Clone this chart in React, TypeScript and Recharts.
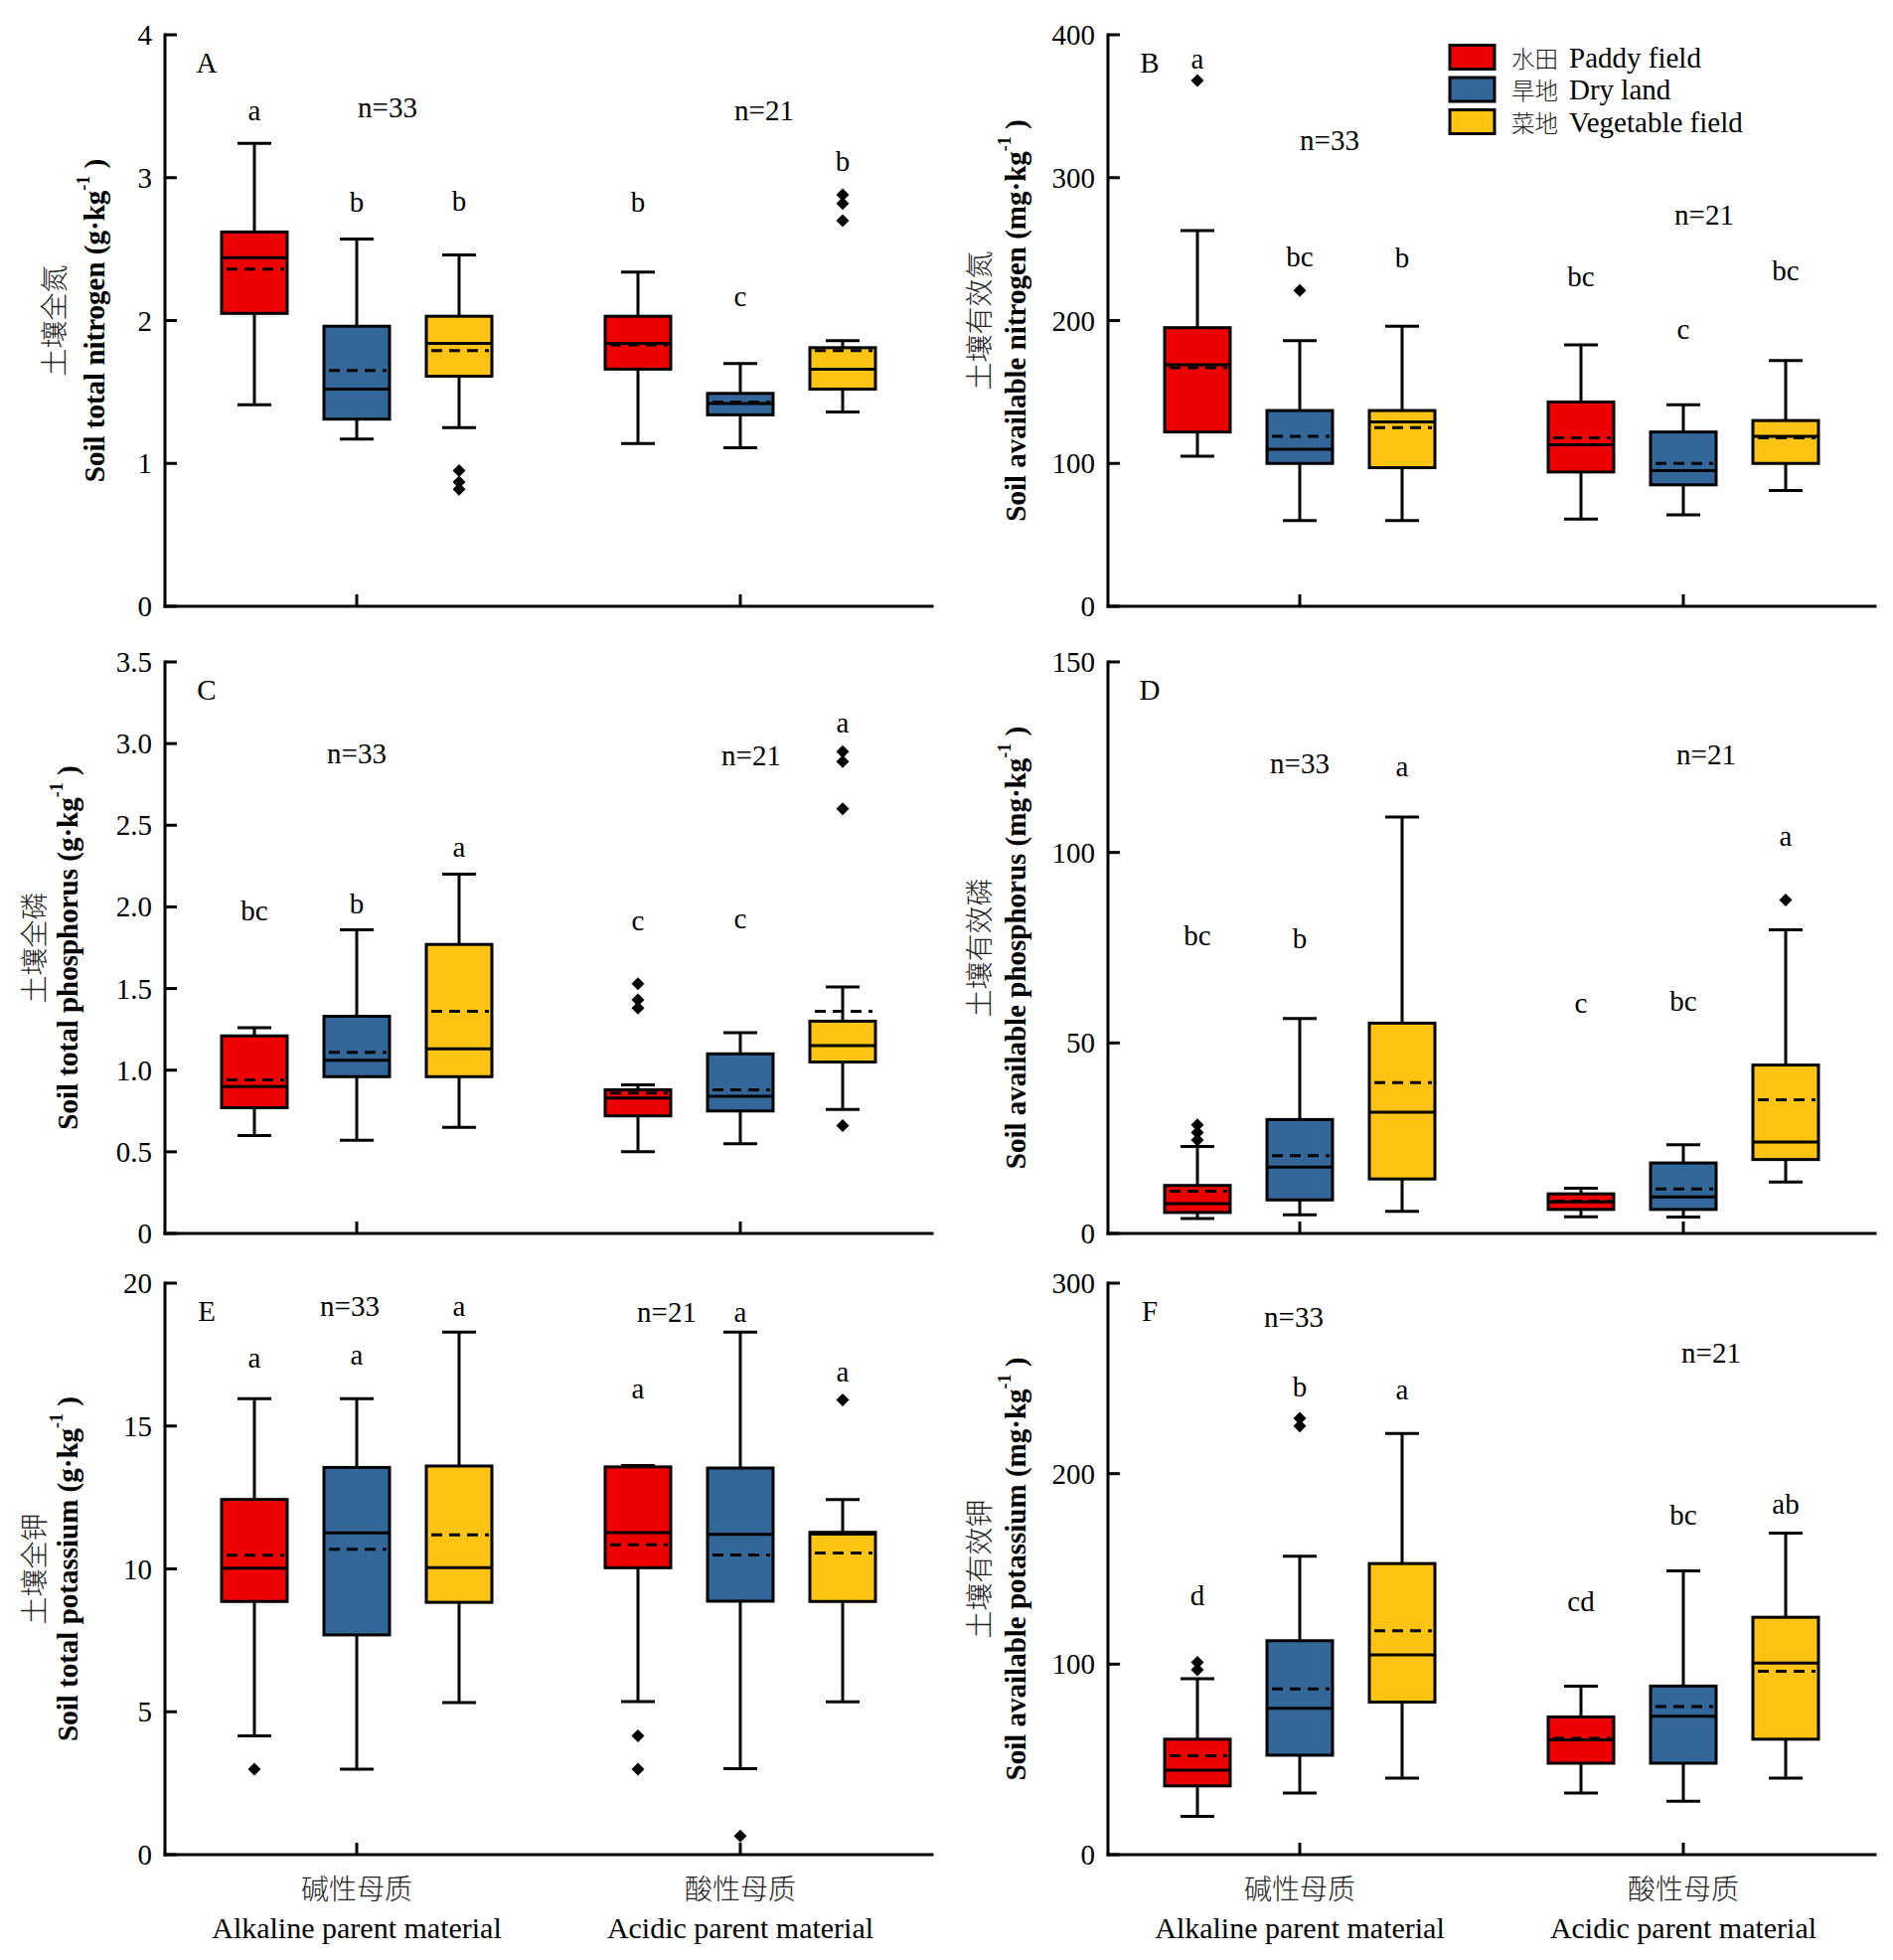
import { Bar, ComposedChart, Label, XAxis, YAxis } from "recharts";

// categories / series
const CATS = ["alkaline", "acidic"];
const CAT_ZH = ["碱性母质", "酸性母质"];
const CAT_EN = ["Alkaline parent material", "Acidic parent material"];
const N_TEXT = ["n=33", "n=21"];

type Key = "paddy" | "dry" | "veg";
const SERIES: { key: Key; zh: string; en: string; color: string }[] = [
  { key: "paddy", zh: "水田", en: "Paddy field", color: "#EE0000" },
  { key: "dry", zh: "旱地", en: "Dry land", color: "#336699" },
  { key: "veg", zh: "菜地", en: "Vegetable field", color: "#FFC312" },
];

// each stat row: [low whisker, q1, median, q3, high whisker, mean]; one row per category

// A: total nitrogen
const TN_TICKS = [0, 1, 2, 3, 4];
const TN_TICK_LABELS = ["0", "1", "2", "3", "4"];
const TN_PADDY = [[1.41, 2.05, 2.44, 2.62, 3.24, 2.36], [1.14, 1.66, 1.84, 2.03, 2.34, 1.83]];
const TN_DRY = [[1.17, 1.31, 1.52, 1.96, 2.57, 1.65], [1.11, 1.34, 1.42, 1.49, 1.7, 1.43]];
const TN_VEG = [[1.25, 1.61, 1.84, 2.03, 2.46, 1.79], [1.36, 1.52, 1.66, 1.81, 1.86, 1.79]];
const TN_OUT = { paddy: [[], []], dry: [[], []], veg: [[0.95, 0.87, 0.82], [2.88, 2.82, 2.7]] };
const TN_LET = { paddy: ["a", "b"], dry: ["b", "c"], veg: ["b", "b"] };
const TN_LET_Y = { paddy: [3.47, 2.83], dry: [2.83, 2.17], veg: [2.84, 3.12] };
const TN_N_Y = [3.49, 3.47];

// B: available nitrogen
const AN_TICKS = [0, 100, 200, 300, 400];
const AN_TICK_LABELS = ["0", "100", "200", "300", "400"];
const AN_PADDY = [[105, 122, 169, 195, 263, 167], [61, 94, 113, 143, 183, 118]];
const AN_DRY = [[60, 100, 110, 137, 186, 119], [64, 85, 95, 122, 141, 100]];
const AN_VEG = [[60, 97, 129, 137, 196, 125], [81, 100, 119, 130, 172, 118]];
const AN_OUT = { paddy: [[368], []], dry: [[221], []], veg: [[], []] };
const AN_LET = { paddy: ["a", "bc"], dry: ["bc", "c"], veg: ["b", "bc"] };
const AN_LET_Y = { paddy: [383, 231], dry: [245, 194], veg: [244, 235] };
const AN_N_Y = [326, 274];

// C: total phosphorus
const TP_TICKS = [0, 0.5, 1, 1.5, 2, 2.5, 3, 3.5];
const TP_TICK_LABELS = ["0", "0.5", "1.0", "1.5", "2.0", "2.5", "3.0", "3.5"];
const TP_PADDY = [[0.6, 0.77, 0.9, 1.21, 1.26, 0.94], [0.5, 0.72, 0.83, 0.88, 0.91, 0.86]];
const TP_DRY = [[0.57, 0.96, 1.06, 1.33, 1.86, 1.11], [0.55, 0.75, 0.84, 1.1, 1.23, 0.88]];
const TP_VEG = [[0.65, 0.96, 1.13, 1.77, 2.2, 1.36], [0.76, 1.05, 1.15, 1.3, 1.51, 1.36]];
const TP_OUT = { paddy: [[], [1.53, 1.43, 1.38]], dry: [[], []], veg: [[], [2.95, 2.89, 2.6, 0.66]] };
const TP_LET = { paddy: ["bc", "c"], dry: ["b", "c"], veg: ["a", "a"] };
const TP_LET_Y = { paddy: [1.98, 1.92], dry: [2.02, 1.93], veg: [2.37, 3.13] };
const TP_N_Y = [2.94, 2.93];

// D: available phosphorus
const AP_TICKS = [0, 50, 100, 150];
const AP_TICK_LABELS = ["0", "50", "100", "150"];
const AP_PADDY = [[3.9, 5.5, 7.8, 12.6, 22.8, 11.1], [4.4, 6.3, 8.3, 10.4, 11.9, 8.5]];
const AP_DRY = [[4.9, 8.8, 17.4, 29.9, 56.4, 20.4], [4.3, 6.3, 9.6, 18.5, 23.3, 11.7]];
const AP_VEG = [[5.8, 14.3, 31.8, 55.2, 109.3, 39.6], [13.5, 19.4, 24, 44.2, 79.7, 35.1]];
const AP_OUT = { paddy: [[28.5, 26.5, 24.5], []], dry: [[], []], veg: [[], [87.5]] };
const AP_LET = { paddy: ["bc", "c"], dry: ["b", "bc"], veg: ["a", "a"] };
const AP_LET_Y = { paddy: [78.3, 60.5], dry: [77.5, 61], veg: [122.7, 104.3] };
const AP_N_Y = [123.4, 125.7];

// E: total potassium
const TK_TICKS = [0, 5, 10, 15, 20];
const TK_TICK_LABELS = ["0", "5", "10", "15", "20"];
const TK_PADDY = [[4.16, 8.86, 10.03, 12.43, 15.96, 10.48], [5.36, 10.04, 11.27, 13.57, 13.62, 10.84]];
const TK_DRY = [[2.99, 7.69, 11.26, 13.55, 15.96, 10.69], [3.01, 8.87, 11.21, 13.53, 18.29, 10.49]];
const TK_VEG = [[5.32, 8.83, 10.04, 13.6, 18.29, 11.19], [5.35, 8.86, 11.22, 11.28, 12.43, 10.56]];
const TK_OUT = { paddy: [[2.99], [4.16, 2.99]], dry: [[], [0.65]], veg: [[], [15.91]] };
const TK_LET = { paddy: ["a", "a"], dry: ["a", "a"], veg: ["a", "a"] };
const TK_LET_Y = { paddy: [17.4, 16.3], dry: [17.5, 19.0], veg: [19.2, 16.9] };
const TK_N_Y = [19.2, 19.0];

// F: available potassium
const AK_TICKS = [0, 100, 200, 300];
const AK_TICK_LABELS = ["0", "100", "200", "300"];
const AK_PADDY = [[20.1, 36.1, 44.4, 60.6, 92.4, 51.9], [32.4, 48, 60.2, 72.3, 88.5, 61]];
const AK_DRY = [[32.4, 52.2, 76.8, 112.3, 156.7, 87], [28.1, 48, 72.7, 88.5, 148.9, 77.8]];
const AK_VEG = [[40.2, 80.1, 104.9, 152.8, 221.1, 117.5], [40.2, 60.6, 100.6, 124.6, 168.8, 96.3]];
const AK_OUT = { paddy: [[101, 97], []], dry: [[229, 225], []], veg: [[], []] };
const AK_LET = { paddy: ["d", "cd"], dry: ["b", "bc"], veg: ["a", "ab"] };
const AK_LET_Y = { paddy: [136.3, 133.3], dry: [245.8, 178.6], veg: [244.4, 184.4] };
const AK_N_Y = [282.5, 263.7];

interface Panel {
  id: string;
  zh: string;
  en: string;
  unit: string;
  ticks: number[];
  tickLabels: string[];
  stats: Record<Key, number[][]>;
  outliers: Record<Key, number[][]>;
  letters: Record<Key, string[]>;
  letterY: Record<Key, number[]>;
  nY: number[];
}

const PANELS: Panel[] = [
  { id: "A", zh: "土壤全氮", en: "Soil total nitrogen", unit: "g·kg", ticks: TN_TICKS, tickLabels: TN_TICK_LABELS,
    stats: { paddy: TN_PADDY, dry: TN_DRY, veg: TN_VEG }, outliers: TN_OUT, letters: TN_LET, letterY: TN_LET_Y, nY: TN_N_Y },
  { id: "B", zh: "土壤有效氮", en: "Soil available nitrogen", unit: "mg·kg", ticks: AN_TICKS, tickLabels: AN_TICK_LABELS,
    stats: { paddy: AN_PADDY, dry: AN_DRY, veg: AN_VEG }, outliers: AN_OUT, letters: AN_LET, letterY: AN_LET_Y, nY: AN_N_Y },
  { id: "C", zh: "土壤全磷", en: "Soil total phosphorus", unit: "g·kg", ticks: TP_TICKS, tickLabels: TP_TICK_LABELS,
    stats: { paddy: TP_PADDY, dry: TP_DRY, veg: TP_VEG }, outliers: TP_OUT, letters: TP_LET, letterY: TP_LET_Y, nY: TP_N_Y },
  { id: "D", zh: "土壤有效磷", en: "Soil available phosphorus", unit: "mg·kg", ticks: AP_TICKS, tickLabels: AP_TICK_LABELS,
    stats: { paddy: AP_PADDY, dry: AP_DRY, veg: AP_VEG }, outliers: AP_OUT, letters: AP_LET, letterY: AP_LET_Y, nY: AP_N_Y },
  { id: "E", zh: "土壤全钾", en: "Soil total potassium", unit: "g·kg", ticks: TK_TICKS, tickLabels: TK_TICK_LABELS,
    stats: { paddy: TK_PADDY, dry: TK_DRY, veg: TK_VEG }, outliers: TK_OUT, letters: TK_LET, letterY: TK_LET_Y, nY: TK_N_Y },
  { id: "F", zh: "土壤有效钾", en: "Soil available potassium", unit: "mg·kg", ticks: AK_TICKS, tickLabels: AK_TICK_LABELS,
    stats: { paddy: AK_PADDY, dry: AK_DRY, veg: AK_VEG }, outliers: AK_OUT, letters: AK_LET, letterY: AK_LET_Y, nY: AK_N_Y },
];

// layout
interface Layout {
  left: number;
  top: number;
  width: number;
  height: number;
  margin: { top: number; right: number; bottom: number; left: number };
  titleDx: [number, number];
  nDx: [number, number];
  legend?: boolean;
  xLabels?: boolean;
}

const LEFT = { left: 0, width: 952, ml: 106, mr: 14 };
const RIGHT = { left: 952, width: 953, ml: 103, mr: 18 };
const ROWS = [
  { top: 0, height: 650, mt: 35, mb: 10 },
  { top: 620, height: 661, mt: 46, mb: 10 },
  { top: 1250, height: 722, mt: 41, mb: 76 },
];

function lay(col: typeof LEFT, row: (typeof ROWS)[number], extra: Partial<Layout> & { titleDx: [number, number]; nDx: [number, number] }): Layout {
  return {
    left: col.left,
    top: row.top,
    width: col.width,
    height: row.height,
    margin: { top: row.mt, right: col.mr, bottom: row.mb, left: col.ml },
    ...extra,
  };
}

const LAYOUTS: Layout[] = [
  lay(LEFT, ROWS[0], { titleDx: [113, 71], nDx: [31, 24] }),
  lay(RIGHT, ROWS[0], { titleDx: [131, 93], nDx: [30, 21], legend: true }),
  lay(LEFT, ROWS[1], { titleDx: [133, 98], nDx: [0, 11] }),
  lay(RIGHT, ROWS[1], { titleDx: [131, 93], nDx: [0, 23] }),
  lay(LEFT, ROWS[2], { titleDx: [133, 98], nDx: [-7, -74], xLabels: true }),
  lay(RIGHT, ROWS[2], { titleDx: [131, 93], nDx: [-6, 28], xLabels: true }),
];

const FONT = '"Liberation Serif", "Times New Roman", "Noto Sans CJK SC", serif';
const TXT = { fontFamily: FONT, fontSize: 29, fill: "#000" };
const ZH = { fontFamily: '"Noto Sans CJK SC", sans-serif', fontSize: 28, fontWeight: 300, fill: "#222" };
const AXIS = { stroke: "#000", strokeWidth: 3, strokeLinecap: "square" as const };

function YTick(props: any) {
  const { x, y, payload, ticks, labels } = props;
  const i = ticks.indexOf(payload.value);
  return (
    <g>
      <line x1={x} x2={x + 12} y1={y} y2={y} stroke="#000" strokeWidth={3} />
      <text x={x - 13} y={y} textAnchor="end" dominantBaseline="central" style={TXT}>
        {labels[i]}
      </text>
    </g>
  );
}

function XTick(props: any) {
  const { x, y, index, showLabels } = props;
  return (
    <g>
      <line x1={x} x2={x} y1={y} y2={y - 12} stroke="#000" strokeWidth={3} />
      {showLabels && (
        <>
          <text x={x} y={y + 33} textAnchor="middle" dominantBaseline="central" style={ZH}>
            {CAT_ZH[index]}
          </text>
          <text x={x} y={y + 73} textAnchor="middle" dominantBaseline="central" style={{ ...TXT, fontSize: 30 }}>
            {CAT_EN[index]}
          </text>
        </>
      )}
    </g>
  );
}

function Decor({ viewBox, p, l }: { viewBox: any; p: Panel; l: Layout }) {
  const ax = viewBox.x + viewBox.width;
  const top = viewBox.y;
  const cy = top + viewBox.height / 2;
  const zx = ax - l.titleDx[0];
  const ex = ax - l.titleDx[1];
  const rowY = (i: number) => top + 22.5 + i * 32.5;
  return (
    <g>
      <text x={zx} y={cy} transform={`rotate(-90 ${zx} ${cy})`} textAnchor="middle" dominantBaseline="central" style={ZH}>
        {p.zh}
      </text>
      <text
        x={ex}
        y={cy}
        transform={`rotate(-90 ${ex} ${cy})`}
        textAnchor="middle"
        dominantBaseline="central"
        style={{ ...TXT, fontWeight: "bold" }}
      >
        {p.en} ({p.unit}
        <tspan dy={-11} fontSize={18}>
          -1
        </tspan>
        <tspan dy={11}> )</tspan>
      </text>
      <text x={ax + 42} y={top + 28} textAnchor="middle" dominantBaseline="central" style={TXT}>
        {p.id}
      </text>
      {l.legend &&
        SERIES.map((s, i) => (
          <g key={s.key}>
            <rect x={ax + 344} y={rowY(i) - 12} width={45} height={24} fill={s.color} stroke="#000" strokeWidth={3} />
            <text x={ax + 406} y={rowY(i)} dominantBaseline="central" style={{ ...ZH, fontSize: 23.5 }}>
              {s.zh}
            </text>
            <text x={ax + 464} y={rowY(i)} dominantBaseline="central" style={{ ...TXT, fontSize: 29 }}>
              {s.en}
            </text>
          </g>
        ))}
    </g>
  );
}

function makeBox(p: Panel, key: Key, l: Layout) {
  return (props: any) => {
    const { x, y, width, height, payload } = props;
    const i = CATS.indexOf(payload.cat);
    const [lo, q1, med, q3, hi, mean] = p.stats[key][i];
    const color = SERIES.find((s) => s.key === key)!.color;
    // value -> pixel, from the bar geometry that recharts scaled for [lo, hi]
    const py = (v: number) => y + ((hi - v) / (hi - lo)) * height;
    const cx = x + width / 2;
    const cap = 17;
    return (
      <g>
        <line x1={cx} x2={cx} y1={py(hi)} y2={py(q3)} stroke="#000" strokeWidth={3} />
        <line x1={cx} x2={cx} y1={py(q1)} y2={py(lo)} stroke="#000" strokeWidth={3} />
        <line x1={cx - cap} x2={cx + cap} y1={py(hi)} y2={py(hi)} stroke="#000" strokeWidth={3} />
        <line x1={cx - cap} x2={cx + cap} y1={py(lo)} y2={py(lo)} stroke="#000" strokeWidth={3} />
        <rect x={x} y={py(q3)} width={width} height={py(q1) - py(q3)} fill={color} stroke="#000" strokeWidth={3} />
        <line x1={x} x2={x + width} y1={py(med)} y2={py(med)} stroke="#000" strokeWidth={3} />
        <line
          x1={x + 5}
          x2={x + width - 3}
          y1={py(mean)}
          y2={py(mean)}
          stroke="#000"
          strokeWidth={3}
          strokeDasharray="11 7"
        />
        {p.outliers[key][i].map((v, k) => {
          const oy = py(v);
          return <path key={k} d={`M${cx},${oy - 6.5}L${cx + 6.5},${oy}L${cx},${oy + 6.5}L${cx - 6.5},${oy}Z`} fill="#000" />;
        })}
        <text x={cx} y={py(p.letterY[key][i])} textAnchor="middle" dominantBaseline="central" style={TXT}>
          {p.letters[key][i]}
        </text>
        {key === "dry" && (
          <text x={cx + l.nDx[i]} y={py(p.nY[i])} textAnchor="middle" dominantBaseline="central" style={TXT}>
            {N_TEXT[i]}
          </text>
        )}
      </g>
    );
  };
}

function PanelChart({ p, l }: { p: Panel; l: Layout }) {
  const data = CATS.map((c, i) => ({
    cat: c,
    paddy: [p.stats.paddy[i][0], p.stats.paddy[i][4]],
    dry: [p.stats.dry[i][0], p.stats.dry[i][4]],
    veg: [p.stats.veg[i][0], p.stats.veg[i][4]],
  }));
  const max = p.ticks[p.ticks.length - 1];
  return (
    <div style={{ position: "absolute", left: l.left, top: l.top }}>
      <ComposedChart width={l.width} height={l.height} data={data} margin={l.margin} barSize={66} barGap={37}>
        <XAxis
          dataKey="cat"
          height={30}
          tickSize={0}
          tickMargin={0}
          interval={0}
          axisLine={AXIS}
          tickLine={false}
          tick={<XTick showLabels={!!l.xLabels} />}
        />
        <YAxis
          type="number"
          domain={[0, max]}
          ticks={p.ticks}
          interval={0}
          width={60}
          tickSize={0}
          tickMargin={0}
          axisLine={AXIS}
          tickLine={false}
          tick={<YTick ticks={p.ticks} labels={p.tickLabels} />}
        >
          <Label content={(props: any) => <Decor viewBox={props.viewBox} p={p} l={l} />} />
        </YAxis>
        {SERIES.map((s) => (
          <Bar
            key={s.key}
            dataKey={s.key}
            name={`${s.zh} ${s.en}`}
            fill={s.color}
            isAnimationActive={false}
            shape={makeBox(p, s.key, l)}
          />
        ))}
      </ComposedChart>
    </div>
  );
}

export default function App() {
  return (
    <div style={{ position: "relative", width: 1905, height: 1972, background: "#fff", overflow: "hidden" }}>
      <style>{"body{margin:0}"}</style>
      {PANELS.map((p, i) => (
        <PanelChart key={p.id} p={p} l={LAYOUTS[i]} />
      ))}
    </div>
  );
}
